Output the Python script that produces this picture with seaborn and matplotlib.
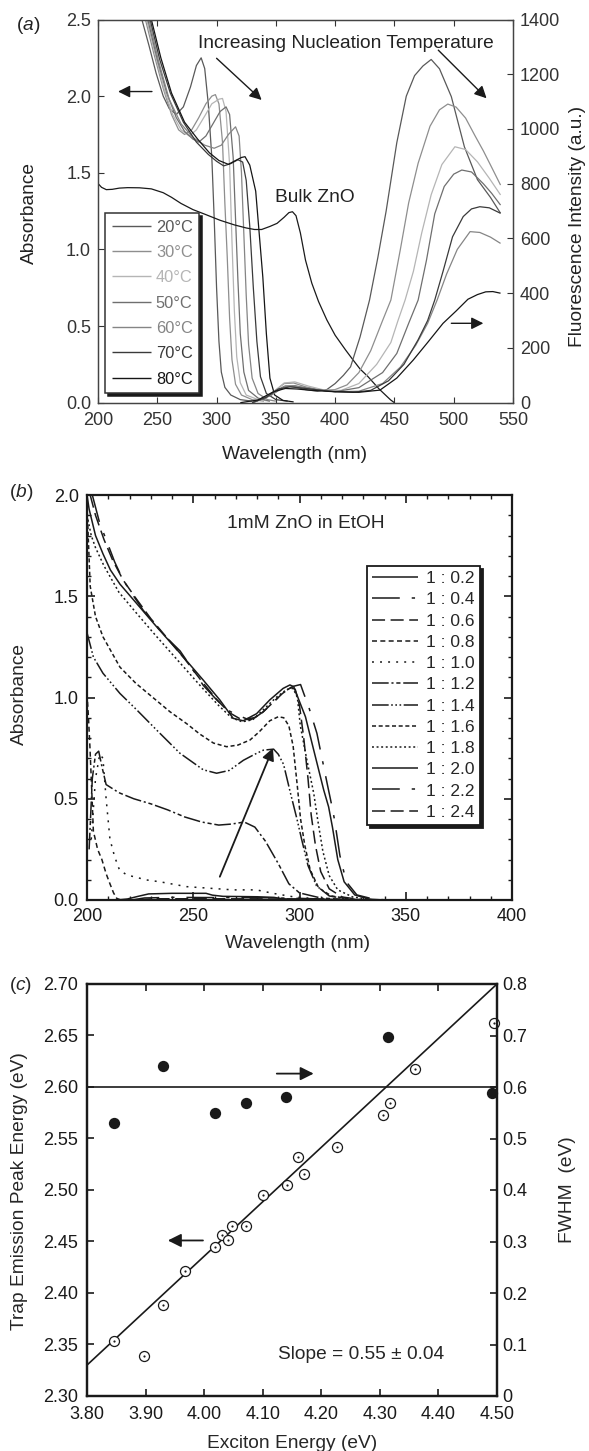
import pandas as pd
import matplotlib
matplotlib.use("Agg")
import matplotlib.pyplot as plt
import seaborn as sns
from matplotlib.lines import Line2D
from matplotlib.ticker import MultipleLocator, FormatStrFormatter, FuncFormatter

# ---------------- panel (a): absorbance + fluorescence vs nucleation temperature
temps = ["20°C", "30°C", "40°C", "50°C", "60°C", "70°C", "80°C"]
temp_colors = ["#595959", "#8e8e8e", "#b5b5b5", "#6f6f6f", "#858585", "#3a3a3a", "#151515"]

abs_20 = [(232, 2.62), (237, 2.5), (243, 2.33), (249, 2.15), (255, 2.0), (260, 1.92), (266, 1.88),
          (272, 1.93), (278, 2.06), (283, 2.2), (287, 2.25), (290, 2.18), (293, 1.95), (296, 1.6),
          (298, 1.2), (300, 0.75), (302, 0.4), (304, 0.2), (307, 0.1), (312, 0.05), (320, 0.02), (330, 0.01)]
abs_30 = [(234, 2.62), (240, 2.5), (247, 2.28), (255, 2.05), (262, 1.88), (268, 1.78), (273, 1.75),
          (279, 1.78), (285, 1.86), (291, 1.95), (296, 2.0), (299, 2.01), (302, 1.95), (305, 1.7),
          (307, 1.3), (309, 0.95), (311, 0.55), (313, 0.28), (316, 0.12), (321, 0.05), (330, 0.02), (340, 0.01)]
abs_40 = [(235, 2.62), (241, 2.5), (248, 2.28), (256, 2.04), (263, 1.88), (270, 1.78), (277, 1.74),
          (283, 1.78), (290, 1.87), (296, 1.95), (302, 1.98), (305, 1.985), (308, 1.9), (311, 1.55),
          (313, 1.05), (315, 0.6), (317, 0.3), (320, 0.13), (325, 0.05), (335, 0.02), (345, 0.01)]
abs_50 = [(236, 2.62), (242, 2.5), (250, 2.24), (258, 2.02), (266, 1.86), (273, 1.77), (280, 1.72),
          (285, 1.70), (291, 1.74), (297, 1.82), (303, 1.9), (308, 1.93), (311, 1.88), (314, 1.6),
          (316, 1.2), (318, 0.8), (320, 0.45), (323, 0.2), (327, 0.08), (335, 0.03), (345, 0.01)]
abs_60 = [(237, 2.62), (243, 2.5), (251, 2.23), (260, 1.98), (270, 1.82), (280, 1.73), (290, 1.68),
          (298, 1.66), (304, 1.68), (310, 1.75), (316, 1.80), (319, 1.74), (321, 1.5), (323, 1.1),
          (325, 0.7), (327, 0.38), (330, 0.16), (335, 0.06), (343, 0.02), (350, 0.01)]
abs_70 = [(238, 2.62), (244, 2.5), (252, 2.24), (261, 2.02), (272, 1.83), (283, 1.70), (293, 1.62),
          (300, 1.575), (306, 1.545), (312, 1.56), (318, 1.585), (322, 1.57), (325, 1.45), (328, 1.15),
          (331, 0.75), (334, 0.4), (337, 0.17), (342, 0.06), (350, 0.02), (360, 0.01)]
abs_80 = [(239, 2.62), (245, 2.5), (253, 2.25), (262, 2.02), (273, 1.83), (284, 1.72), (294, 1.63),
          (302, 1.58), (310, 1.555), (316, 1.58), (321, 1.6), (324, 1.605), (328, 1.55), (333, 1.38),
          (336, 1.1), (339, 0.82), (342, 0.45), (345, 0.16), (349, 0.05), (356, 0.015), (365, 0.005)]
abs_curves = [abs_20, abs_30, abs_40, abs_50, abs_60, abs_70, abs_80]

bulk_zno = [(200, 1.43), (203, 1.405), (207, 1.39), (212, 1.392), (218, 1.40), (225, 1.403), (235, 1.402),
            (245, 1.395), (255, 1.37), (262, 1.34), (270, 1.30), (280, 1.26), (290, 1.23), (303, 1.19),
            (315, 1.16), (325, 1.14), (332, 1.13), (338, 1.13), (345, 1.15), (351, 1.17), (357, 1.21),
            (361, 1.24), (364, 1.246), (367, 1.22), (370.7, 1.107), (375, 0.93), (380.3, 0.78), (386, 0.66),
            (393, 0.54), (400, 0.44), (408.8, 0.344), (415, 0.28), (421, 0.22), (427.7, 0.17), (437, 0.09),
            (446.8, 0.018), (450, 0.0)]

fl_20 = [(330, 0), (340, 15), (350, 45), (358, 60), (366, 58), (375, 48), (385, 42), (393, 48), (400, 70),
         (407, 100), (413, 131), (421, 240), (429, 375), (436, 530), (443, 700), (452, 950), (460, 1120),
         (467, 1195), (474, 1230), (481, 1254), (488, 1220), (498, 1118), (509, 935), (520, 815),
         (531, 750), (539.5, 692)]
fl_30 = [(330, 0), (345, 30), (357, 70), (365, 72), (375, 58), (390, 45), (400, 48), (410, 65), (420, 110),
         (430, 190), (440, 300), (447, 375), (455, 560), (462, 730), (470, 875), (480, 1010), (488, 1070),
         (495, 1091), (502, 1080), (510, 1040), (518, 975), (525, 920), (532, 860), (539.5, 795)]
fl_40 = [(330, 0), (345, 28), (357, 72), (366, 76), (378, 60), (392, 45), (405, 45), (420, 70), (435, 140),
         (447, 220), (453, 300), (459, 375), (466, 480), (473, 620), (481, 760), (490, 870), (501, 935),
         (510, 925), (520, 880), (530, 820), (539.5, 759)]
fl_50 = [(330, 0), (345, 25), (358, 60), (366, 62), (380, 50), (400, 40), (420, 55), (440, 110), (452, 180),
         (462, 290), (470, 375), (477, 520), (484, 690), (492, 790), (500, 835), (506.8, 850), (515, 843),
         (525, 800), (532, 765), (539.5, 722)]
fl_60 = [(330, 0), (345, 25), (357, 60), (365, 62), (378, 50), (400, 40), (420, 42), (440, 70), (455, 130),
         (468, 210), (478, 290), (486, 375), (494, 470), (503, 560), (513.8, 625), (522, 622), (531, 605),
         (539.5, 582)]
fl_70 = [(330, 0), (342, 20), (352, 50), (362, 58), (375, 52), (395, 42), (415, 38), (430, 45), (445, 80),
         (458, 140), (470, 230), (478, 300), (484, 375), (491, 480), (499, 606), (508, 680), (515, 708),
         (522, 716), (530, 712), (539.5, 692)]
fl_80 = [(320, 0), (335, 10), (348, 40), (358, 52), (368, 50), (380, 45), (400, 40), (420, 38), (437.8, 46),
         (452, 90), (465.9, 156), (478, 220), (491, 290), (502, 335), (512, 378), (520, 395), (527, 405),
         (533, 406), (539.5, 400)]
fl_curves = [fl_20, fl_30, fl_40, fl_50, fl_60, fl_70, fl_80]

# ---------------- panel (b): 1mM ZnO in EtOH, Zn : base ratio
ratios = ["1 : 0.2", "1 : 0.4", "1 : 0.6", "1 : 0.8", "1 : 1.0", "1 : 1.2",
          "1 : 1.4", "1 : 1.6", "1 : 1.8", "1 : 2.0", "1 : 2.2", "1 : 2.4"]
ratio_dashes = ["", (20, 8.6, 2.4, 8.6), (9.4, 4), (3.6, 2.4), (1.4, 4.4), (12, 2, 1.5, 2, 3, 2),
                (12, 1.8, 1.2, 1.8, 1.2, 1.8, 1.2, 1.8), (2.9, 1.9), (1.4, 1.9),
                "", (20, 8.6, 2.4, 8.6), (9.4, 4)]

b_02 = [(214, 0.0), (219, 0.005), (224, 0.018), (229, 0.03), (240, 0.033), (256, 0.033), (259, 0.024),
        (264, 0.018), (280, 0.016), (288, 0.013), (292, 0.006), (300, 0.003), (320, 0.001), (340, 0.0)]
b_04 = [(221, 0.0), (227, 0.01), (240, 0.013), (260, 0.012), (285, 0.011), (300, 0.008), (315, 0.004),
        (330, 0.001), (345, 0.0)]
b_06 = [(224, 0.0), (231, 0.006), (260, 0.006), (300, 0.005), (320, 0.002), (340, 0.0)]
b_08 = [(200, 1.02), (200.7, 0.9), (201.4, 0.75), (202.2, 0.55), (203, 0.34), (205, 0.25), (207, 0.2),
        (209, 0.13), (210.8, 0.08), (212.5, 0.035), (214, 0.008), (216, 0.0)]
b_10 = [(202, 0.3), (204, 0.6), (206, 0.72), (207.5, 0.7), (209, 0.5), (210.8, 0.3), (213, 0.214),
        (215.3, 0.148), (218.7, 0.124), (228, 0.099), (234.3, 0.09), (246.8, 0.066), (257.8, 0.058),
        (268.7, 0.05), (279.7, 0.05), (287.5, 0.033), (296.9, 0.016), (309.5, 0.004), (320, 0.0)]
b_12 = [(201, 0.25), (202.5, 0.6), (204, 0.72), (205.5, 0.735), (207, 0.66), (209, 0.57), (215, 0.53),
        (222, 0.5), (230, 0.475), (238, 0.445), (246, 0.41), (254, 0.385), (262, 0.37), (268, 0.375),
        (274, 0.385), (279, 0.36), (284, 0.29), (290, 0.18), (295, 0.08), (300, 0.035), (310, 0.01), (325, 0.0)]
b_14 = [(200, 1.32), (203, 1.2), (207.5, 1.12), (215.5, 1.02), (223.3, 0.94), (232.7, 0.84), (243.7, 0.725),
        (254.7, 0.643), (261, 0.626), (267, 0.64), (273.6, 0.69), (279, 0.72), (283, 0.74), (287.8, 0.745),
        (290, 0.72), (292.5, 0.67), (295.7, 0.53), (298.8, 0.40), (301, 0.3), (304, 0.17), (308, 0.07),
        (314, 0.02), (322, 0.005), (330, 0.0)]
b_16 = [(200, 1.95), (201.5, 1.55), (204, 1.4), (207.5, 1.30), (215.5, 1.15), (223, 1.07), (231, 1.0),
        (239, 0.93), (247, 0.87), (253, 0.82), (259.5, 0.775), (265.7, 0.757), (271, 0.765), (276.7, 0.79),
        (281, 0.83), (286, 0.885), (290, 0.905), (292.6, 0.9), (295, 0.86), (297, 0.76), (299, 0.56),
        (300.5, 0.40), (302.5, 0.27), (305, 0.15), (309, 0.06), (315, 0.02), (325, 0.003), (335, 0.0)]
b_18 = [(200, 1.9), (202, 1.8), (204, 1.74), (208, 1.65), (215, 1.52), (223, 1.42), (232, 1.31), (243, 1.18),
        (254, 1.05), (262, 0.96), (268, 0.9), (273, 0.88), (278, 0.89), (283, 0.94), (289, 1.0), (294, 1.04),
        (297, 1.045), (299, 1.0), (300.4, 0.86), (303.5, 0.69), (306.7, 0.527), (308.5, 0.40), (311, 0.24),
        (314, 0.12), (318, 0.05), (325, 0.015), (335, 0.0)]
b_20 = [(200, 2.0), (201, 1.93), (204, 1.8), (207.5, 1.71), (211, 1.63), (215.5, 1.56), (223.3, 1.465),
        (232.7, 1.35), (243.7, 1.22), (254.7, 1.086), (262.5, 0.988), (268.8, 0.897), (273.5, 0.885),
        (279.8, 0.92), (286, 0.988), (292.3, 1.045), (295.5, 1.062), (297.3, 1.053), (300, 0.98),
        (302.8, 0.905), (306.7, 0.74), (311.4, 0.543), (313.7, 0.46), (315.5, 0.36), (318, 0.2), (321, 0.09),
        (326, 0.025), (333, 0.004), (340, 0.0)]
b_22 = [(202.5, 2.0), (206, 1.86), (209, 1.78), (213, 1.67), (217, 1.58), (222, 1.5), (226.5, 1.43),
        (232.8, 1.35), (238, 1.29), (243.8, 1.23), (249, 1.15), (254.7, 1.06), (260, 1.0), (265.7, 0.94),
        (270.4, 0.915), (275, 0.895), (279, 0.9), (283, 0.93), (288, 0.98), (293, 1.03), (297, 1.055),
        (300.5, 1.064), (302, 1.02), (304.3, 0.955), (308.2, 0.823), (313, 0.576), (315.3, 0.461),
        (316.5, 0.395), (319, 0.22), (322, 0.09), (327, 0.025), (335, 0.004), (342, 0.0)]
b_24 = [(201.5, 2.0), (204, 1.9), (208, 1.78), (212, 1.68), (217, 1.58), (223, 1.49), (230, 1.39),
        (238, 1.29), (246, 1.19), (254, 1.08), (261, 0.99), (267, 0.925), (272, 0.895), (277, 0.89),
        (282, 0.92), (287, 0.97), (292, 1.02), (296, 1.05), (298, 1.04), (300, 0.96), (302, 0.8), (304, 0.6),
        (305.5, 0.42), (307.5, 0.27), (310, 0.14), (314, 0.055), (320, 0.015), (330, 0.0)]
b_curves = [b_02, b_04, b_06, b_08, b_10, b_12, b_14, b_16, b_18, b_20, b_22, b_24]

# ---------------- panel (c): trap emission vs exciton energy
exc_open = [3.846, 3.897, 3.930, 3.968, 4.019, 4.031, 4.040, 4.047, 4.072, 4.100,
            4.142, 4.161, 4.170, 4.227, 4.306, 4.317, 4.360, 4.495]
trap_open = [2.353, 2.339, 2.388, 2.421, 2.445, 2.456, 2.451, 2.465, 2.465, 2.495,
             2.505, 2.532, 2.516, 2.542, 2.573, 2.584, 2.617, 2.662]
exc_filled = [3.846, 3.929, 4.019, 4.072, 4.140, 4.314, 4.492]
fwhm_filled = [0.530, 0.641, 0.550, 0.569, 0.581, 0.698, 0.589]
fit_x = [3.80, 4.50]
fit_y = [2.33, 2.70]
fwhm_x = [3.80, 4.50]
fwhm_y = [0.60, 0.60]


def long_frame(curves, names, key):
    rows = [(n, x, y) for n, pts in zip(names, curves) for x, y in pts]
    return pd.DataFrame(rows, columns=[key, "wl", "val"])


sns.set_theme(context="paper", style="ticks")
plt.rcParams["font.family"] = ["Liberation Sans", "DejaVu Sans"]
plt.rcParams["mathtext.fontset"] = "custom"
plt.rcParams["mathtext.rm"] = "Liberation Sans"
plt.rcParams["mathtext.it"] = "Liberation Sans:italic"
plt.rcParams["lines.scale_dashes"] = False
plt.rcParams["lines.solid_capstyle"] = "butt"

W, H = 589, 1451
fig = plt.figure(figsize=(W / 100, H / 100), dpi=100)


def box(l, t, r, b):
    return [l / W, 1 - b / H, (r - l) / W, (b - t) / H]


def ftext(x, y, s, **kw):
    kw.setdefault("ha", "center")
    kw.setdefault("va", "center")
    kw.setdefault("fontsize", 13.8)
    fig.text(x / W, 1 - y / H, s, **kw)


def arrow(ax, tail, head, lw=1.0, ms=14):
    ax.annotate("", xy=head, xytext=tail,
                arrowprops=dict(arrowstyle="-|>", color="k", lw=lw, mutation_scale=ms,
                                shrinkA=0, shrinkB=0))


# ===== (a)
ax = fig.add_axes(box(98, 19.5, 513, 402.7))
sns.lineplot(data=long_frame(abs_curves, temps, "temp"), x="wl", y="val", hue="temp",
             palette=dict(zip(temps, temp_colors)), estimator=None, sort=False, lw=0.9,
             legend=False, ax=ax)
sns.lineplot(x=[p[0] for p in bulk_zno], y=[p[1] for p in bulk_zno], color="k", lw=0.9,
             estimator=None, sort=False, ax=ax)
ax.set_xlim(200, 550)
ax.set_ylim(0, 2.5)
ax.xaxis.set_major_locator(MultipleLocator(50))
ax.yaxis.set_major_locator(MultipleLocator(0.5))
ax.yaxis.set_major_formatter(FormatStrFormatter("%.1f"))
ax.set_xlabel("")
ax.set_ylabel("")
ax.tick_params(direction="in", length=4, width=0.8, colors="#333333", labelsize=13, pad=5,
               top=True, right=False)
ax.tick_params(axis="x", pad=6.5)

ax2 = ax.twinx()
sns.lineplot(data=long_frame(fl_curves, temps, "temp"), x="wl", y="val", hue="temp",
             palette=dict(zip(temps, temp_colors)), estimator=None, sort=False, lw=0.9,
             legend=False, ax=ax2)
ax2.set_ylim(0, 1400)
ax2.yaxis.set_major_locator(MultipleLocator(200))
ax2.set_ylabel("")
ax2.tick_params(axis="y", direction="in", length=4, width=0.8, colors="#333333", labelsize=13, pad=5)
for a in (ax, ax2):
    for s in a.spines.values():
        s.set_linewidth(0.9)
        s.set_color("#444444")

handles = [Line2D([], [], color=c, lw=1.0) for c in temp_colors]
leg = ax2.legend(handles, temps, loc="upper left", bbox_to_anchor=(0.017, 0.495), borderaxespad=0,
                 fontsize=11.8, handlelength=2.4, handletextpad=0.3, labelspacing=0.63, borderpad=0.4,
                 fancybox=False, framealpha=1, shadow={"color": "k", "alpha": 1})
leg.get_frame().set_edgecolor("#333333")
leg.get_frame().set_linewidth(1.1)
for t, c in zip(leg.get_texts(), temp_colors):
    t.set_color(c)

ax.text(409, 2.312, "Increasing Nucleation Temperature", ha="center", va="baseline", fontsize=13.8,
        color="#222222")
ax.text(383, 1.311, "Bulk ZnO", ha="center", va="baseline", fontsize=13.8, color="#222222")
arrow(ax, (245.5, 2.03), (216.9, 2.03), ms=18)
arrow(ax, (300, 2.247), (338, 1.975), ms=18)
arrow(ax, (487, 2.30), (527.7, 1.986), ms=18)
arrow(ax, (498, 0.518), (525, 0.518), ms=18)

ftext(28, 25, r"($\mathit{a}$)", color="#222222")
ftext(29, 213, "Absorbance", rotation=90, color="#222222")
ftext(578, 226, "Fluorescence Intensity (a.u.)", rotation=90, color="#222222")
ftext(295, 455, "Wavelength (nm)", color="#222222")

# ===== (b)
axb = fig.add_axes(box(87, 495, 512, 900))
sns.lineplot(data=long_frame(b_curves, ratios, "ratio"), x="wl", y="val", style="ratio",
             dashes=dict(zip(ratios, ratio_dashes)), color="k", lw=1.1, estimator=None, sort=False,
             legend=False, ax=axb)
axb.set_xlim(200, 400)
axb.set_ylim(0, 2.0)
axb.xaxis.set_major_locator(MultipleLocator(50))
axb.xaxis.set_minor_locator(MultipleLocator(10))
axb.yaxis.set_major_locator(MultipleLocator(0.5))
axb.yaxis.set_minor_locator(MultipleLocator(0.1))
axb.yaxis.set_major_formatter(FormatStrFormatter("%.1f"))
axb.set_xlabel("")
axb.set_ylabel("")
axb.tick_params(which="both", direction="in", top=True, right=True, colors="k", labelsize=13)
axb.tick_params(which="major", length=6, width=1.2, pad=6)
axb.tick_params(which="minor", length=3, width=1.0)
for s in axb.spines.values():
    s.set_linewidth(1.6)
    s.set_color("k")

bh = [Line2D([], [], color="k", lw=1.1, linestyle="-" if d == "" else (0, d)) for d in ratio_dashes]
legb = axb.legend(bh, ratios, loc="upper left", bbox_to_anchor=(0.659, 0.825), borderaxespad=0,
                  fontsize=12.5, handlelength=2.65, handletextpad=0.45, labelspacing=0.35, borderpad=0.3,
                  fancybox=False, framealpha=1, shadow={"color": "k", "alpha": 1})
legb.get_frame().set_edgecolor("k")
legb.get_frame().set_linewidth(1.3)

axb.text(303, 1.836, "1mM ZnO in EtOH", ha="center", va="baseline", fontsize=13.8)
arrow(axb, (262.5, 0.115), (287.5, 0.75), lw=1.3, ms=18)

ftext(20.7, 492, r"($\mathit{b}$)")
ftext(19.7, 694, "Absorbance", rotation=90)
ftext(297.6, 944, "Wavelength (nm)")

# ===== (c)
axc = fig.add_axes(box(87, 984, 497, 1396))
sns.lineplot(x=fit_x, y=fit_y, color="k", lw=1.2, ax=axc)
sns.scatterplot(x=exc_open, y=trap_open, marker="o", s=52, color="white", edgecolor="k",
                linewidth=0.9, zorder=3, clip_on=False, ax=axc)
sns.scatterplot(x=exc_open, y=trap_open, marker="o", s=2.5, color="k", linewidth=0,
                zorder=4, clip_on=False, ax=axc)
axc.set_xlim(3.80, 4.50)
axc.set_ylim(2.30, 2.70)
axc.xaxis.set_major_locator(MultipleLocator(0.1))
axc.yaxis.set_major_locator(MultipleLocator(0.05))
axc.xaxis.set_major_formatter(FormatStrFormatter("%.2f"))
axc.yaxis.set_major_formatter(FormatStrFormatter("%.2f"))
axc.set_xlabel("")
axc.set_ylabel("")
axc.tick_params(direction="in", length=5, width=1.2, top=True, right=False, colors="k", labelsize=13)
axc.tick_params(axis="y", pad=6.5)
axc.tick_params(axis="x", pad=7)

axc2 = axc.twinx()
sns.lineplot(x=fwhm_x, y=fwhm_y, color="k", lw=1.2, ax=axc2)
sns.scatterplot(x=exc_filled, y=fwhm_filled, marker="o", s=66, color="k", linewidth=0,
                zorder=4, clip_on=False, ax=axc2)
axc2.set_ylim(0, 0.8)
axc2.yaxis.set_major_locator(MultipleLocator(0.1))
axc2.yaxis.set_major_formatter(FuncFormatter(lambda v, p: "0" if abs(v) < 1e-9 else f"{v:.1f}"))
axc2.set_ylabel("")
axc2.tick_params(axis="y", direction="in", length=5, width=1.2, colors="k", labelsize=13, pad=4)
for a in (axc, axc2):
    for s in a.spines.values():
        s.set_linewidth(1.6)
        s.set_color("k")

axc.text(4.268, 2.3362, "Slope = 0.55 ± 0.04", ha="center", va="baseline", fontsize=13.8)
arrow(axc, (4.124, 2.613), (4.187, 2.613), lw=1.3, ms=20)
arrow(axc, (3.998, 2.451), (3.938, 2.451), lw=1.3, ms=20)

ftext(20.5, 985.5, r"($\mathit{c}$)")
ftext(19.7, 1191, "Trap Emission Peak Energy (eV)", rotation=90)
ftext(567, 1190, "FWHM  (eV)", rotation=90)
ftext(292, 1443.5, "Exciton Energy (eV)")

fig.savefig("out.png", dpi=100)
